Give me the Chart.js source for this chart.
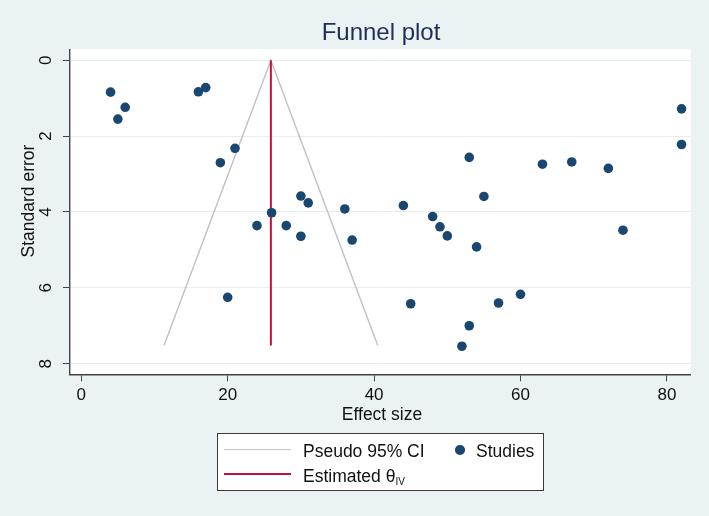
<!DOCTYPE html>
<html>
<head>
<meta charset="utf-8">
<title>Funnel plot</title>
<script src="https://cdn.jsdelivr.net/npm/chart.js@4.4.1/dist/chart.umd.min.js"></script>
<style>
    html, body { margin: 0; padding: 0; background: #eaf2f3; }
    #wrap { position: relative; width: 709px; height: 516px; }
    canvas { display: block; }
    .leg { position: absolute; left: 217px; top: 433px; width: 325px; height: 56px;
           border: 1px solid #3a3a3a; background: #fff;
           font-family: "Liberation Sans", Arial, sans-serif; font-size: 17.5px; color: #111; }
    .leg span { position: absolute; line-height: 20px; white-space: nowrap; }
    .leg i { position: absolute; display: block; }
    .leg sub { font-size: 10px; vertical-align: -3px; }
</style>
</head>
<body>
<div id="wrap">
    <canvas id="funil" width="709" height="516"></canvas>
    <div class="leg">
        <i style="left:6px; top:15px; width:67px; height:0; border-top:1.5px solid #c3c3c3;"></i>
        <span style="left:85px; top:7px;">Pseudo 95% CI</span>
        <i style="left:237px; top:11px; width:9.5px; height:9.5px; border-radius:50%; background:#1a476f;"></i>
        <span style="left:258px; top:7px;">Studies</span>
        <i style="left:6px; top:39px; width:67px; height:0; border-top:2px solid #c4123f;"></i>
        <span style="left:85px; top:32px;">Estimated θ<sub>IV</sub></span>
    </div>
</div>
<script>
// dados
const efeito = [4, 6, 5, 16, 17, 21, 19, 30, 31, 26, 24, 28, 30, 36, 37, 20, 44, 48, 49, 50,
                54, 53, 55, 63, 67, 72, 74, 82, 82, 45, 57, 60, 53, 52];
const erroPadrao = [0.84, 1.24, 1.55, 0.83, 0.72, 2.32, 2.70, 3.58, 3.76, 4.02, 4.36, 4.36, 4.64, 3.92, 4.74, 6.25,
                    3.83, 4.12, 4.39, 4.63, 4.92, 2.56, 3.59, 2.74, 2.68, 2.85, 4.48, 1.28, 2.22,
                    6.42, 6.40, 6.17, 7.00, 7.54];
const ciX = [11.3, 25.9, 40.5];
const ciY = [7.52, 0, 7.52];
const thetaX = [25.9, 25.9];
const thetaY = [0, 7.52];
const xTicks = [0, 20, 40, 60, 80];
const yTicks = [0, 2, 4, 6, 8];

const FONTE = '"Liberation Sans", Arial, sans-serif';

const toPts = (xs, ys) => xs.map((x, i) => ({ x: x, y: ys[i] }));

// fundo, títulos e rótulos do eixo y (rodados como no Stata)
const textosStata = {
    id: "textosStata",
    beforeDraw(chart) {
        const ctx = chart.ctx;
        const a = chart.chartArea;
        ctx.save();
        ctx.fillStyle = "#eaf2f3";
        ctx.fillRect(0, 0, chart.width, chart.height);
        ctx.fillStyle = "#ffffff";
        ctx.fillRect(a.left, a.top, a.right - a.left, a.bottom - a.top);
        ctx.restore();
    },
    afterDraw(chart) {
        const ctx = chart.ctx;
        const y = chart.scales.y;
        ctx.save();
        ctx.fillStyle = "#1e2d59";
        ctx.font = "24px " + FONTE;
        ctx.textAlign = "center";
        ctx.textBaseline = "alphabetic";
        ctx.fillText("Funnel plot", 381, 39.5);

        ctx.fillStyle = "#111";
        ctx.font = "17px " + FONTE;
        ctx.textBaseline = "middle";
        yTicks.forEach(v => {
            ctx.save();
            ctx.translate(46.5, y.getPixelForValue(v));
            ctx.rotate(-Math.PI / 2);
            ctx.fillText(String(v), 0, 0);
            ctx.restore();
        });

        ctx.font = "17.5px " + FONTE;
        ctx.save();
        ctx.translate(29, 201);
        ctx.rotate(-Math.PI / 2);
        ctx.fillText("Standard error", 0, 0);
        ctx.restore();

        ctx.textBaseline = "alphabetic";
        ctx.fillText("Effect size", 382, 420);
        ctx.restore();
    }
};

const ctx = document.getElementById("funil").getContext("2d");

new Chart(ctx, {
    type: "scatter",
    data: {
        datasets: [
            {
                label: "Studies",
                data: toPts(efeito, erroPadrao),
                backgroundColor: "#1a476f",
                borderWidth: 0,
                pointRadius: 4.8,
                order: 0
            },
            {
                label: "Estimated θIV",
                data: toPts(thetaX, thetaY),
                showLine: true,
                borderColor: "#c4123f",
                borderWidth: 2,
                pointRadius: 0,
                order: 1
            },
            {
                label: "Pseudo 95% CI",
                data: toPts(ciX, ciY),
                showLine: true,
                borderColor: "#c3c3c3",
                borderWidth: 1.5,
                pointRadius: 0,
                order: 2
            }
        ]
    },
    options: {
        responsive: false,
        animation: false,
        devicePixelRatio: 1,
        layout: { padding: { top: 49.3, right: 18.3, left: 0, bottom: 0 } },
        plugins: {
            legend: { display: false },
            tooltip: { enabled: false }
        },
        scales: {
            x: {
                type: "linear",
                min: -1.54,
                max: 83.25,
                afterBuildTicks: s => { s.ticks = xTicks.map(v => ({ value: v })); },
                afterFit: s => { s.height = 516 - 374.3; },
                grid: { drawOnChartArea: false, tickColor: "#444", tickLength: 7 },
                border: { color: "#444", width: 1.4 },
                ticks: { color: "#111", font: { family: FONTE, size: 17 }, padding: 4, maxRotation: 0 }
            },
            y: {
                type: "linear",
                reverse: true,
                min: -0.29,
                max: 8.28,
                afterBuildTicks: s => { s.ticks = yTicks.map(v => ({ value: v })); },
                afterFit: s => { s.width = 70; },
                grid: { color: "#e6eef0", lineWidth: 1, tickColor: "#444", tickLength: 7 },
                border: { color: "#444", width: 1.4 },
                ticks: { display: false }
            }
        }
    },
    plugins: [textosStata]
});
</script>
</body>
</html>
